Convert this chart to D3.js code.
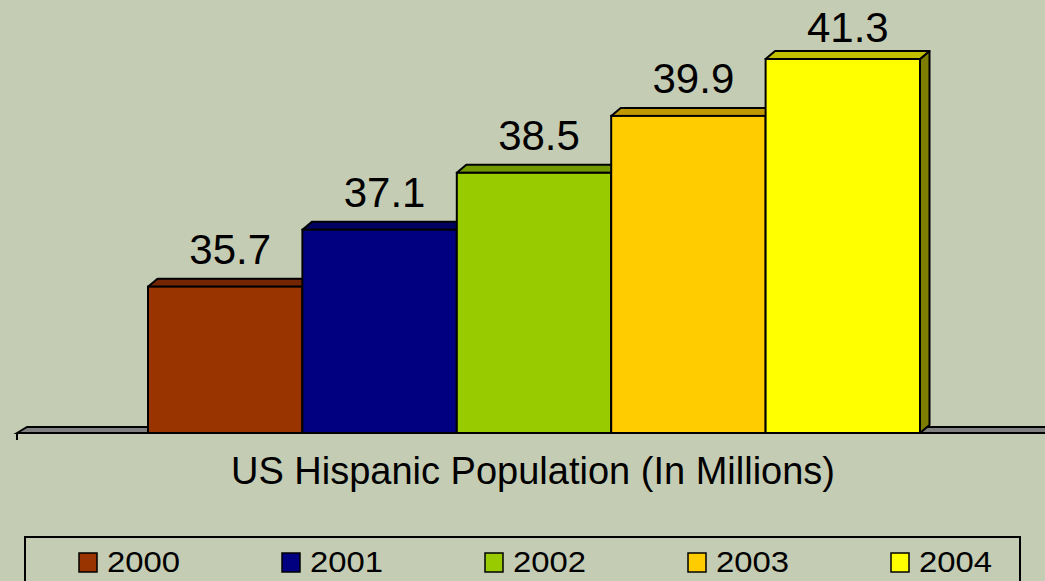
<!DOCTYPE html>
<html><head><meta charset="utf-8">
<script src="https://cdn.jsdelivr.net/npm/d3@7"></script>
<style>html,body{margin:0;padding:0;background:#c5ccb4;}svg{display:block;}</style>
</head><body>
<svg id="c" width="1045" height="581"></svg>
<script>
const years = ["2000","2001","2002","2003","2004"];
const values = [35.7, 37.1, 38.5, 39.9, 41.3];
const colors = ["#993300","#000080","#99cc00","#ffcc00","#ffff00"];
const title = "US Hispanic Population (In Millions)";

const W = 1045, H = 581;
const svg = d3.select("#c");
const font = "'Liberation Sans', Arial, sans-serif";

svg.append("rect").attr("width", W).attr("height", H).attr("fill", "#c5ccb4");

const dx = 9.5, dy = -8;
const x = d3.scaleBand().domain(years).range([148, 920]).padding(0);
const y = d3.scaleLinear().domain([32.1, 41.3]).range([433, 59]);

// floor
const fy = y(32.1);
svg.append("path")
  .attr("d", `M17,${fy} L27,${fy-6} L1047,${fy-6} L1047,${fy} Z`)
  .attr("fill", "#808080").attr("stroke", "#000").attr("stroke-width", 2);
svg.append("line").attr("x1", 17).attr("x2", 17).attr("y1", fy).attr("y2", fy+7)
  .attr("stroke", "#000").attr("stroke-width", 2);

const g = svg.append("g");
years.forEach((yr, i) => {
  const x0 = x(yr), x1 = x0 + x.bandwidth();
  const yt = y(values[i]), yb = y(32.1);
  const c = d3.color(colors[i]);
  const bar = g.append("g");
  bar.append("path")
    .attr("d", `M${x1},${yt} L${x1+dx},${yt+dy} L${x1+dx},${yb+dy} L${x1},${yb} Z`)
    .attr("fill", c.darker(2)).attr("stroke", "#000").attr("stroke-width", 2).attr("stroke-linejoin", "round");
  bar.append("path")
    .attr("d", `M${x0},${yt} L${x0+dx},${yt+dy} L${x1+dx},${yt+dy} L${x1},${yt} Z`)
    .attr("fill", c.darker(0.8)).attr("stroke", "#000").attr("stroke-width", 2).attr("stroke-linejoin", "round");
  bar.append("rect")
    .attr("x", x0).attr("y", yt).attr("width", x1 - x0).attr("height", yb - yt)
    .attr("fill", colors[i]).attr("stroke", "#000").attr("stroke-width", 2);
  svg.append("text")
    .attr("x", (x0 + x1) / 2 + 5).attr("y", Math.max(yt - 23, 42))
    .attr("text-anchor", "middle").attr("font-family", font).attr("font-size", 42)
    .attr("fill", "#000").text(values[i].toFixed(1));
});

svg.append("text").attr("x", 533).attr("y", 484).attr("text-anchor", "middle")
  .attr("font-family", font).attr("font-size", 38).attr("fill", "#000").text(title);

// legend
svg.append("rect").attr("x", 25).attr("y", 537).attr("width", 995).attr("height", 60)
  .attr("fill", "none").attr("stroke", "#000").attr("stroke-width", 2);
const lx = d3.scaleBand().domain(years).range([79, 79 + 203 * 5]);
years.forEach((yr, i) => {
  const gx = lx(yr);
  svg.append("rect").attr("x", gx).attr("y", 553).attr("width", 18).attr("height", 19)
    .attr("fill", colors[i]).attr("stroke", "#000").attr("stroke-width", 1.5);
  svg.append("text").attr("x", gx + 28).attr("y", 572)
    .attr("font-family", font).attr("font-size", 30)
    .attr("textLength", 73).attr("lengthAdjust", "spacingAndGlyphs")
    .attr("fill", "#000").text(yr);
});
</script>
</body></html>
